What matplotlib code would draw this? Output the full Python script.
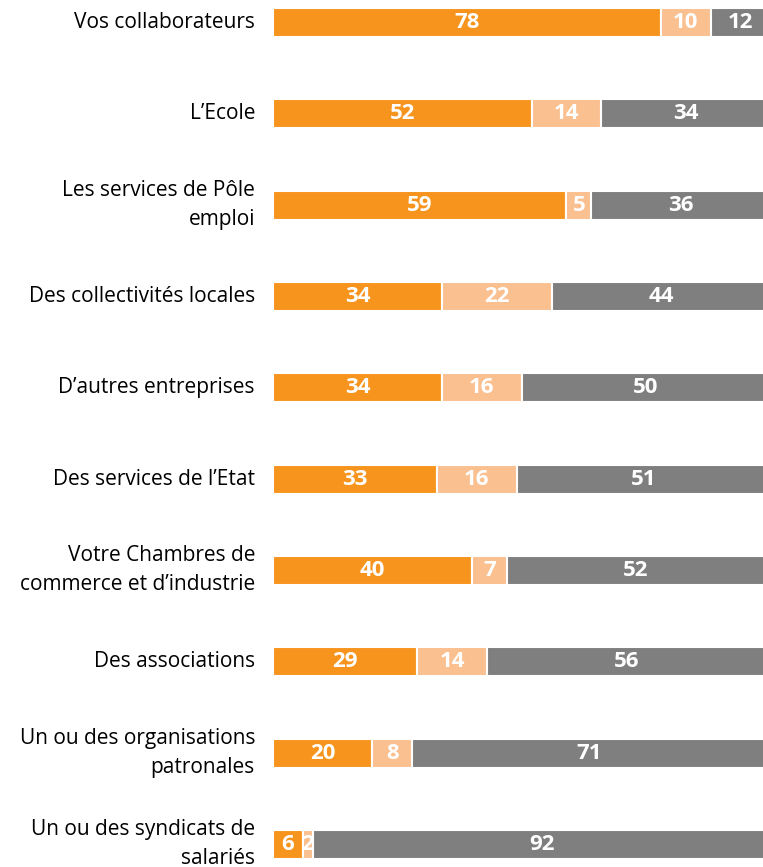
import matplotlib.pyplot as plt
import numpy as np

plt.rcParams['font.family'] = ['Open Sans', 'DejaVu Sans']

categories = [
    'Vos collaborateurs',
    'L\u2019Ecole',
    'Les services de P\u00f4le\nemploi',
    'Des collectivit\u00e9s locales',
    'D\u2019autres entreprises',
    'Des services de l\u2019Etat',
    'Votre Chambres de\ncommerce et d\u2019industrie',
    'Des associations',
    'Un ou des organisations\npatronales',
    'Un ou des syndicats de\nsalari\u00e9s',
]
oui = [78, 52, 59, 34, 34, 33, 40, 29, 20, 6]
moyen = [10, 14, 5, 22, 16, 16, 7, 14, 8, 2]
non = [12, 34, 36, 44, 50, 51, 52, 56, 71, 92]

colors = ['#F7941D', '#FAC090', '#7F7F7F']

W, H = 763, 867
fig = plt.figure(figsize=(W / 100, H / 100), dpi=100)
ax = fig.add_axes([273 / W, 0, 490 / W, 1])

y = np.arange(len(categories))
left = np.zeros(len(categories))
for vals, c in zip([oui, moyen, non], colors):
    vals = np.array(vals, dtype=float)
    ax.barh(y, vals, left=left, height=0.32, color=c, edgecolor='white', linewidth=1.5)
    for yi, l, v in zip(y, left, vals):
        ax.text(l + v / 2, yi, str(int(v)), ha='center', va='center',
                color='white', fontsize=16, fontweight='bold')
    left += vals

ax.set_xlim(0, 490 / 4.974)
ax.set_ylim((H - 22.5) / 91.33, -22.5 / 91.33)
ax.axis('off')

for yi, cat in zip(y, categories):
    ax.annotate(cat, xy=(0, yi), xytext=(-18, 0), textcoords='offset pixels',
                ha='right', va='center', fontsize=15, color='#000000',
                linespacing=1.5, annotation_clip=False)

fig.savefig('out.png', dpi=100)
